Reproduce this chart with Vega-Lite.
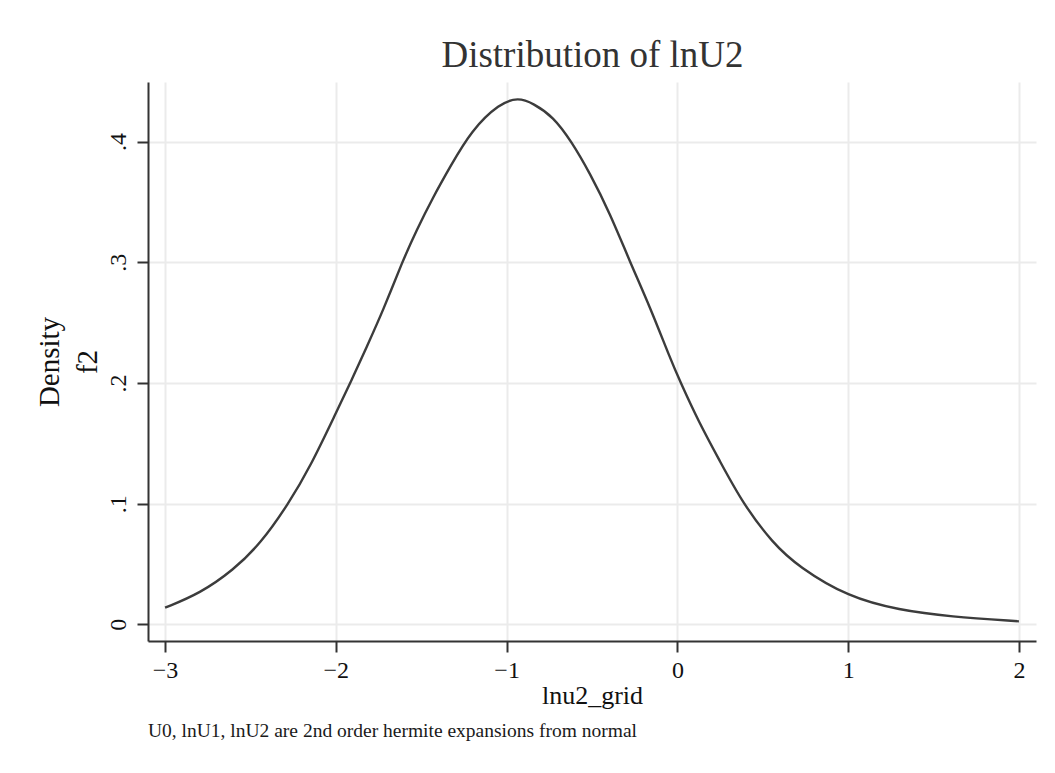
{
  "$schema": "https://vega.github.io/schema/vega-lite/v6.json",
  "width": 888,
  "height": 559,
  "autosize": {"type": "none"},
  "padding": {"left": 148, "top": 82, "right": 19, "bottom": 132},
  "background": "white",
  "config": {"view": {"stroke": null}, "font": "Liberation Serif"},
  "title": {
    "text": "U0, lnU1, lnU2 are 2nd order hermite expansions from normal",
    "orient": "bottom",
    "anchor": "start",
    "frame": "group",
    "fontSize": 19.5,
    "fontWeight": "normal",
    "color": "#1a1a1a",
    "offset": 14
  },
  "data": {
    "values": [
      {"lnu2_grid": -3.0, "f2": 0.0138},
      {"lnu2_grid": -2.795, "f2": 0.0257},
      {"lnu2_grid": -2.6, "f2": 0.045},
      {"lnu2_grid": -2.44, "f2": 0.067},
      {"lnu2_grid": -2.278, "f2": 0.0997},
      {"lnu2_grid": -2.15, "f2": 0.1306},
      {"lnu2_grid": -2.0, "f2": 0.175},
      {"lnu2_grid": -1.907, "f2": 0.2024},
      {"lnu2_grid": -1.819, "f2": 0.23},
      {"lnu2_grid": -1.722, "f2": 0.2604},
      {"lnu2_grid": -1.615, "f2": 0.299},
      {"lnu2_grid": -1.527, "f2": 0.3267},
      {"lnu2_grid": -1.429, "f2": 0.3543},
      {"lnu2_grid": -1.331, "f2": 0.379},
      {"lnu2_grid": -1.205, "f2": 0.4095},
      {"lnu2_grid": -1.041, "f2": 0.4316},
      {"lnu2_grid": -0.932, "f2": 0.4365},
      {"lnu2_grid": -0.844, "f2": 0.4316},
      {"lnu2_grid": -0.727, "f2": 0.4206},
      {"lnu2_grid": -0.62, "f2": 0.4},
      {"lnu2_grid": -0.512, "f2": 0.3737},
      {"lnu2_grid": -0.395, "f2": 0.3405},
      {"lnu2_grid": -0.278, "f2": 0.3004},
      {"lnu2_grid": -0.161, "f2": 0.2631},
      {"lnu2_grid": -0.044, "f2": 0.221},
      {"lnu2_grid": 0.012, "f2": 0.2024},
      {"lnu2_grid": 0.129, "f2": 0.1665},
      {"lnu2_grid": 0.246, "f2": 0.136},
      {"lnu2_grid": 0.383, "f2": 0.1002},
      {"lnu2_grid": 0.559, "f2": 0.0671},
      {"lnu2_grid": 0.71, "f2": 0.0477},
      {"lnu2_grid": 1.0, "f2": 0.0226},
      {"lnu2_grid": 1.299, "f2": 0.0118},
      {"lnu2_grid": 1.596, "f2": 0.0063},
      {"lnu2_grid": 2.0, "f2": 0.0025}
    ]
  },
  "layer": [
    {
      "mark": {"type": "line", "color": "#3c3c3c", "strokeWidth": 2.4, "interpolate": "basis"},
      "encoding": {
        "x": {
          "field": "lnu2_grid",
          "type": "quantitative",
          "scale": {"domain": [-3.1, 2.1], "nice": false, "zero": false},
          "axis": {
            "values": [-3, -2, -1, 0, 1, 2],
            "format": "d",
            "labelFontSize": 24,
            "labelColor": "#111",
            "labelBaseline": "alphabetic",
            "labelPadding": 25,
            "labelFlush": false,
            "labelOverlap": false,
            "tickSize": 11,
            "tickWidth": 2,
            "tickColor": "#333",
            "domainColor": "#333",
            "domainWidth": 2,
            "gridColor": "#ebebeb",
            "gridWidth": 2,
            "title": "lnu2_grid",
            "titleFontSize": 26,
            "titleFontWeight": "normal",
            "titleColor": "#111",
            "titleAlign": "center",
            "titleBaseline": "alphabetic",
            "titleX": 444,
            "titleY": 62
          }
        },
        "y": {
          "field": "f2",
          "type": "quantitative",
          "scale": {"domain": [-0.0138, 0.4493], "nice": false, "zero": false},
          "axis": {
            "values": [0, 0.1, 0.2, 0.3, 0.4],
            "labelExpr": "datum.value == 0 ? '0' : '.' + round(datum.value * 10)",
            "labelAngle": -90,
            "labelAlign": "center",
            "labelBaseline": "alphabetic",
            "labelPadding": 12,
            "labelFontSize": 24,
            "labelColor": "#111",
            "labelFlush": false,
            "labelOverlap": false,
            "tickSize": 11,
            "tickWidth": 2,
            "tickColor": "#333",
            "domainColor": "#333",
            "domainWidth": 2,
            "gridColor": "#ebebeb",
            "gridWidth": 2,
            "title": ["Density", "f2"],
            "titleFontSize": 29,
            "titleFontWeight": "normal",
            "titleColor": "#111",
            "titleLineHeight": 38,
            "titleAngle": -90,
            "titleAlign": "center",
            "titleBaseline": "alphabetic",
            "titleX": -90,
            "titleY": 279.5
          }
        }
      }
    },
    {
      "mark": {"type": "line", "opacity": 0},
      "encoding": {
        "x": {
          "field": "lnu2_grid",
          "type": "quantitative",
          "scale": {"domain": [-3.1, 2.1], "nice": false, "zero": false},
          "axis": {
            "orient": "top",
            "labels": false,
            "ticks": false,
            "domain": false,
            "grid": false,
            "title": "Distribution of lnU2",
            "titleFontSize": 37,
            "titleFontWeight": "normal",
            "titleColor": "#333",
            "titleAlign": "center",
            "titleBaseline": "alphabetic",
            "titleX": 444,
            "titleY": -16
          }
        },
        "y": {"field": "f2", "type": "quantitative"}
      }
    }
  ],
  "resolve": {"axis": {"x": "independent"}}
}
